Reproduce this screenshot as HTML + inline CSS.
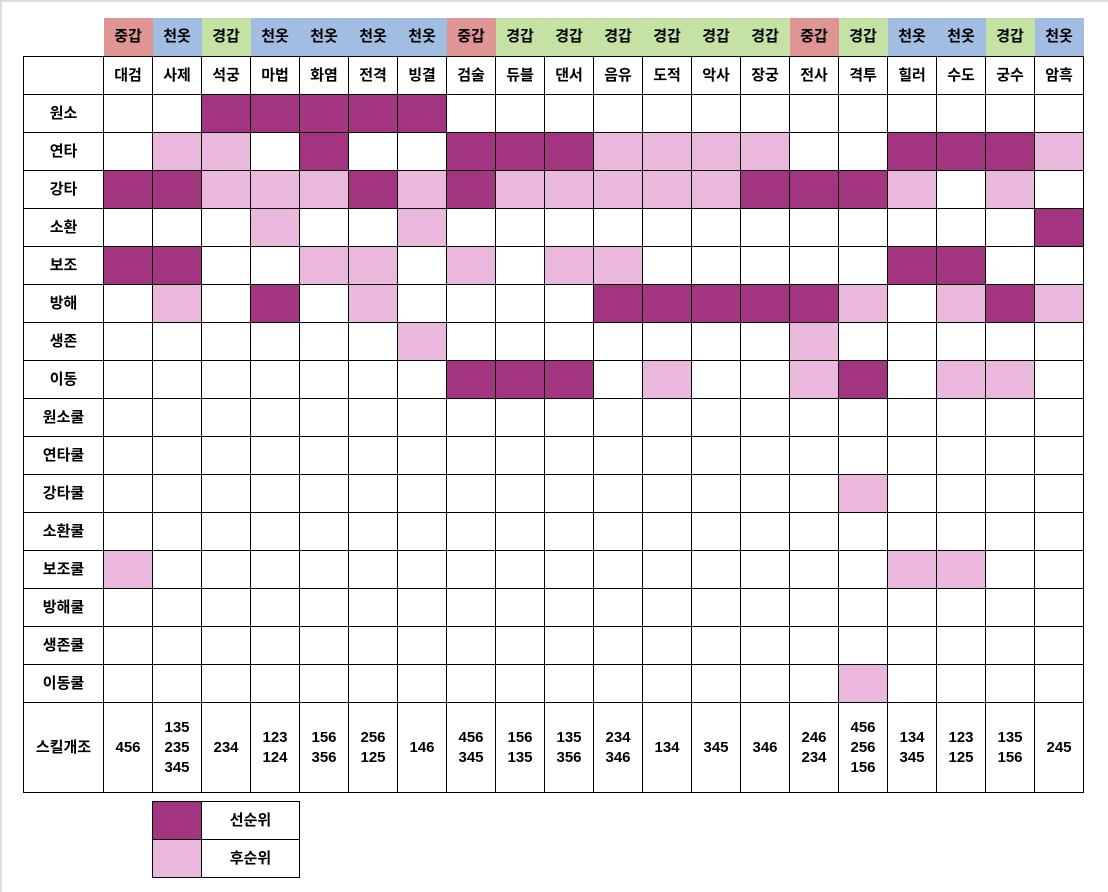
<!DOCTYPE html><html><head><meta charset="utf-8"><style>
body{margin:0;width:1108px;height:892px;background:#fff;overflow:hidden;border-left:2px solid #ddd;border-top:2px solid #ddd;box-sizing:border-box;font-family:"Liberation Sans","Noto Sans CJK KR",sans-serif;}
table{position:absolute;border-collapse:collapse;table-layout:fixed;font-size:15px;font-weight:bold;}
#t{left:23px;top:18px;width:1060px}
td{border:1px solid #000;text-align:center;height:37px;padding:0;line-height:20px}
tr.h td{border:none;height:38px}
tr.h td.e{background:#fff}
.r{background:#df9594}.b{background:#a1bde2}.g{background:#c5e1a4}
.D{background:#a3347f}.L{background:#eab8dc}
tr.s td{height:89px}
#lg{left:152px;top:801px;width:147px}
#lg td{height:37px}
</style></head><body>
<table id="t"><colgroup><col style="width:80px"><col span="20" style="width:49px"></colgroup>
<tr class="h"><td class="e"></td><td class="r">중갑</td><td class="b">천옷</td><td class="g">경갑</td><td class="b">천옷</td><td class="b">천옷</td><td class="b">천옷</td><td class="b">천옷</td><td class="r">중갑</td><td class="g">경갑</td><td class="g">경갑</td><td class="g">경갑</td><td class="g">경갑</td><td class="g">경갑</td><td class="g">경갑</td><td class="r">중갑</td><td class="g">경갑</td><td class="b">천옷</td><td class="b">천옷</td><td class="g">경갑</td><td class="b">천옷</td></tr>
<tr><td></td><td>대검</td><td>사제</td><td>석궁</td><td>마법</td><td>화염</td><td>전격</td><td>빙결</td><td>검술</td><td>듀블</td><td>댄서</td><td>음유</td><td>도적</td><td>악사</td><td>장궁</td><td>전사</td><td>격투</td><td>힐러</td><td>수도</td><td>궁수</td><td>암흑</td></tr>
<tr><td>원소</td><td></td><td></td><td class="D"></td><td class="D"></td><td class="D"></td><td class="D"></td><td class="D"></td><td></td><td></td><td></td><td></td><td></td><td></td><td></td><td></td><td></td><td></td><td></td><td></td><td></td></tr>
<tr><td>연타</td><td></td><td class="L"></td><td class="L"></td><td></td><td class="D"></td><td></td><td></td><td class="D"></td><td class="D"></td><td class="D"></td><td class="L"></td><td class="L"></td><td class="L"></td><td class="L"></td><td></td><td></td><td class="D"></td><td class="D"></td><td class="D"></td><td class="L"></td></tr>
<tr><td>강타</td><td class="D"></td><td class="D"></td><td class="L"></td><td class="L"></td><td class="L"></td><td class="D"></td><td class="L"></td><td class="D"></td><td class="L"></td><td class="L"></td><td class="L"></td><td class="L"></td><td class="L"></td><td class="D"></td><td class="D"></td><td class="D"></td><td class="L"></td><td></td><td class="L"></td><td></td></tr>
<tr><td>소환</td><td></td><td></td><td></td><td class="L"></td><td></td><td></td><td class="L"></td><td></td><td></td><td></td><td></td><td></td><td></td><td></td><td></td><td></td><td></td><td></td><td></td><td class="D"></td></tr>
<tr><td>보조</td><td class="D"></td><td class="D"></td><td></td><td></td><td class="L"></td><td class="L"></td><td></td><td class="L"></td><td></td><td class="L"></td><td class="L"></td><td></td><td></td><td></td><td></td><td></td><td class="D"></td><td class="D"></td><td></td><td></td></tr>
<tr><td>방해</td><td></td><td class="L"></td><td></td><td class="D"></td><td></td><td class="L"></td><td></td><td></td><td></td><td></td><td class="D"></td><td class="D"></td><td class="D"></td><td class="D"></td><td class="D"></td><td class="L"></td><td></td><td class="L"></td><td class="D"></td><td class="L"></td></tr>
<tr><td>생존</td><td></td><td></td><td></td><td></td><td></td><td></td><td class="L"></td><td></td><td></td><td></td><td></td><td></td><td></td><td></td><td class="L"></td><td></td><td></td><td></td><td></td><td></td></tr>
<tr><td>이동</td><td></td><td></td><td></td><td></td><td></td><td></td><td></td><td class="D"></td><td class="D"></td><td class="D"></td><td></td><td class="L"></td><td></td><td></td><td class="L"></td><td class="D"></td><td></td><td class="L"></td><td class="L"></td><td></td></tr>
<tr><td>원소쿨</td><td></td><td></td><td></td><td></td><td></td><td></td><td></td><td></td><td></td><td></td><td></td><td></td><td></td><td></td><td></td><td></td><td></td><td></td><td></td><td></td></tr>
<tr><td>연타쿨</td><td></td><td></td><td></td><td></td><td></td><td></td><td></td><td></td><td></td><td></td><td></td><td></td><td></td><td></td><td></td><td></td><td></td><td></td><td></td><td></td></tr>
<tr><td>강타쿨</td><td></td><td></td><td></td><td></td><td></td><td></td><td></td><td></td><td></td><td></td><td></td><td></td><td></td><td></td><td></td><td class="L"></td><td></td><td></td><td></td><td></td></tr>
<tr><td>소환쿨</td><td></td><td></td><td></td><td></td><td></td><td></td><td></td><td></td><td></td><td></td><td></td><td></td><td></td><td></td><td></td><td></td><td></td><td></td><td></td><td></td></tr>
<tr><td>보조쿨</td><td class="L"></td><td></td><td></td><td></td><td></td><td></td><td></td><td></td><td></td><td></td><td></td><td></td><td></td><td></td><td></td><td></td><td class="L"></td><td class="L"></td><td></td><td></td></tr>
<tr><td>방해쿨</td><td></td><td></td><td></td><td></td><td></td><td></td><td></td><td></td><td></td><td></td><td></td><td></td><td></td><td></td><td></td><td></td><td></td><td></td><td></td><td></td></tr>
<tr><td>생존쿨</td><td></td><td></td><td></td><td></td><td></td><td></td><td></td><td></td><td></td><td></td><td></td><td></td><td></td><td></td><td></td><td></td><td></td><td></td><td></td><td></td></tr>
<tr><td>이동쿨</td><td></td><td></td><td></td><td></td><td></td><td></td><td></td><td></td><td></td><td></td><td></td><td></td><td></td><td></td><td></td><td class="L"></td><td></td><td></td><td></td><td></td></tr>
<tr class="s"><td>스킬개조</td><td>456</td><td>135<br>235<br>345</td><td>234</td><td>123<br>124</td><td>156<br>356</td><td>256<br>125</td><td>146</td><td>456<br>345</td><td>156<br>135</td><td>135<br>356</td><td>234<br>346</td><td>134</td><td>345</td><td>346</td><td>246<br>234</td><td>456<br>256<br>156</td><td>134<br>345</td><td>123<br>125</td><td>135<br>156</td><td>245</td></tr>
</table>
<table id="lg"><colgroup><col style="width:49px"><col style="width:98px"></colgroup>
<tr><td class="D"></td><td>선순위</td></tr>
<tr><td class="L"></td><td>후순위</td></tr>
</table>
</body></html>
